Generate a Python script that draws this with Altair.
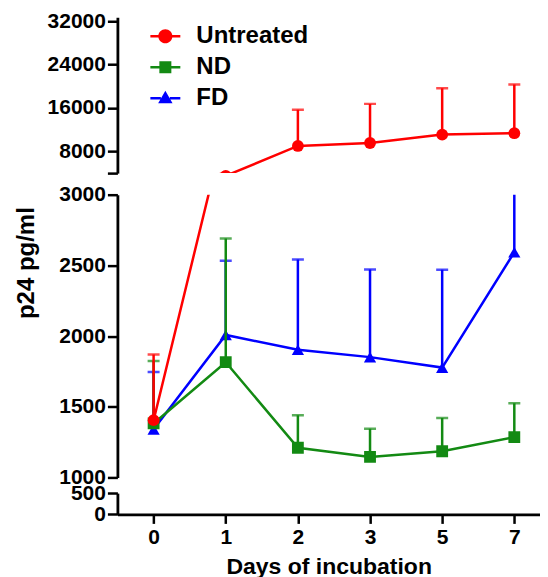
import altair as alt
import pandas as pd

# ---------------- data ----------------
days = ["0", "1", "2", "3", "5", "7"]
series = ["Untreated", "ND", "FD"]
series_colors = ["#ff0000", "#138a13", "#0000ff"]

untreated_mean = [1405, 3500, 9000, 9550, 11100, 11350]
untreated_upper = [1870, 3900, 15650, 16750, 19650, 20300]
nd_mean = [1382, 1815, 1210, 1145, 1185, 1285]
nd_upper = [1823, 2690, 1440, 1345, 1420, 1525]
fd_mean = [1340, 2008, 1903, 1851, 1777, 2593]
fd_upper = [1745, 2532, 2542, 2471, 2469, 3400]

top_ticks = [4000, 8000, 16000, 24000, 32000]
mid_ticks = [1000, 1500, 2000, 2500, 3000]
bottom_ticks = [0, 500]

# ---------------- build table ----------------
means = {"Untreated": untreated_mean, "ND": nd_mean, "FD": fd_mean}
uppers = {"Untreated": untreated_upper, "ND": nd_upper, "FD": fd_upper}
rows = []
for s in series:
    for d, m, u in zip(days, means[s], uppers[s]):
        rows.append({"Day": d, "Series": s, "Mean": m, "Upper": u})
df = pd.DataFrame(rows)
legend_df = pd.DataFrame({"Series": series})

FONT = "Liberation Sans"
color_of = dict(zip(series, series_colors))
shape_of = {"Untreated": "circle", "ND": "square", "FD": "triangle-up"}
size_of = {"Untreated": 140, "ND": 140, "FD": 150}

legend_paths = [
    "M-1,-0.085H-0.45V0.085H-1Z M0.45,-0.085H1V0.085H0.45Z "
    "M0.47,0A0.47,0.47 0 1,1 -0.47,0A0.47,0.47 0 1,1 0.47,0Z",
    "M-1,-0.085H-0.4V0.085H-1Z M0.4,-0.085H1V0.085H0.4Z M-0.4,-0.4H0.4V0.4H-0.4Z",
    "M-1,-0.085H-0.3V0.085H-1Z M0.3,-0.085H1V0.085H0.3Z M0,-0.5L0.48,0.33H-0.48Z",
]

W = 423
GAP = 21.6


def panel(ydom, height, yvals, show_x=False, ytitle=None, legend=False,
          hide_first=False, yrange=None):
    xaxis = None
    if show_x:
        xaxis = alt.Axis(
            title="Days of incubation", labelAngle=0, labelFontSize=21,
            labelFontWeight="bold", labelColor="black", labelFont=FONT,
            titleFontSize=23, titleFontWeight="bold", titleColor="black", titleFont=FONT,
            tickSize=9, tickWidth=2.5, tickColor="black", domainWidth=2.8,
            domainColor="black", labelPadding=3, titlePadding=8, grid=False,
        )
    xenc = alt.X("Day:O", sort=days,
                 scale=alt.Scale(type="point", padding=0.429, align=0.585), axis=xaxis)

    axis_kwargs = dict(
        values=yvals, format="d", tickSize=10, tickWidth=2.5, tickColor="black",
        domainWidth=2.8, domainColor="black", labelPadding=2, labelFontSize=21,
        labelFontWeight="bold", labelColor="black", labelFont=FONT, grid=False,
    )
    if hide_first:
        axis_kwargs["labelExpr"] = f"datum.value == {yvals[0]} ? '' : datum.label"
    if ytitle:
        axis_kwargs.update(
            title=ytitle, titleFontSize=24, titleFontWeight="bold", titleColor="black",
            titleFont=FONT, titleAngle=-90, titleX=-90.5, titleY=68, titleAlign="center",
            titleBaseline="middle",
        )
    else:
        axis_kwargs["title"] = None
    yaxis = alt.Axis(**axis_kwargs)
    if yrange is not None:
        yscale = alt.Scale(domain=ydom, nice=False, zero=False, range=yrange)
    else:
        yscale = alt.Scale(domain=ydom, nice=False, zero=False)

    layers = []
    for s in ["FD", "ND", "Untreated"]:
        b = alt.Chart(df).transform_filter(alt.datum.Series == s)
        c = color_of[s]
        layers.append(b.mark_line(color=c, strokeWidth=2.5, clip=True).encode(
            x=xenc, y=alt.Y("Mean:Q", scale=yscale, axis=yaxis)))
        layers.append(b.mark_rule(color=c, strokeWidth=2.5, clip=True).encode(
            x=xenc, y=alt.Y("Mean:Q", scale=yscale, axis=yaxis), y2="Upper:Q"))
        layers.append(b.mark_tick(color=c, thickness=2.5, size=12, orient="horizontal", clip=True).encode(
            x=xenc, y=alt.Y("Upper:Q", scale=yscale, axis=yaxis)))
        layers.append(b.mark_point(shape=shape_of[s], filled=True, size=size_of[s], color=c,
                                   opacity=1, clip=True).encode(
            x=xenc, y=alt.Y("Mean:Q", scale=yscale, axis=yaxis)))
    if legend:
        leg = alt.Legend(
            title=None, orient="none", legendX=33, legendY=4, symbolSize=900,
            symbolStrokeWidth=0, symbolOpacity=1, labelFontSize=24, labelFont=FONT,
            labelFontWeight="bold", labelColor="black", labelOffset=16, rowPadding=4,
            padding=0,
        )
        layers.append(alt.Chart(legend_df).mark_point(filled=True, opacity=0, clip=True).encode(
            color=alt.Color("Series:N", sort=series,
                            scale=alt.Scale(domain=series, range=series_colors), legend=leg),
            shape=alt.Shape("Series:N", sort=series,
                            scale=alt.Scale(domain=series, range=legend_paths), legend=leg),
        ))
    return alt.layer(*layers).properties(width=W, height=height)


top = panel([4000, 32700], 156, top_ticks, legend=True, hide_first=True)
mid = panel([1000, 3000], 283, mid_ticks, ytitle="p24 pg/ml")
# bottom break segment: its 0-500 axis starts a little above the panel box
bottom = panel([0, 500], 15.4, bottom_ticks, show_x=True, yrange=[15.4, -5.9])

chart = alt.vconcat(top, mid, bottom, spacing=GAP, bounds="flush").configure(
    padding={"left": 6.5, "top": 1, "right": 0, "bottom": 0}
).configure_view(stroke=None)

chart.save("out.html", embed_options={"renderer": "svg", "actions": False})
